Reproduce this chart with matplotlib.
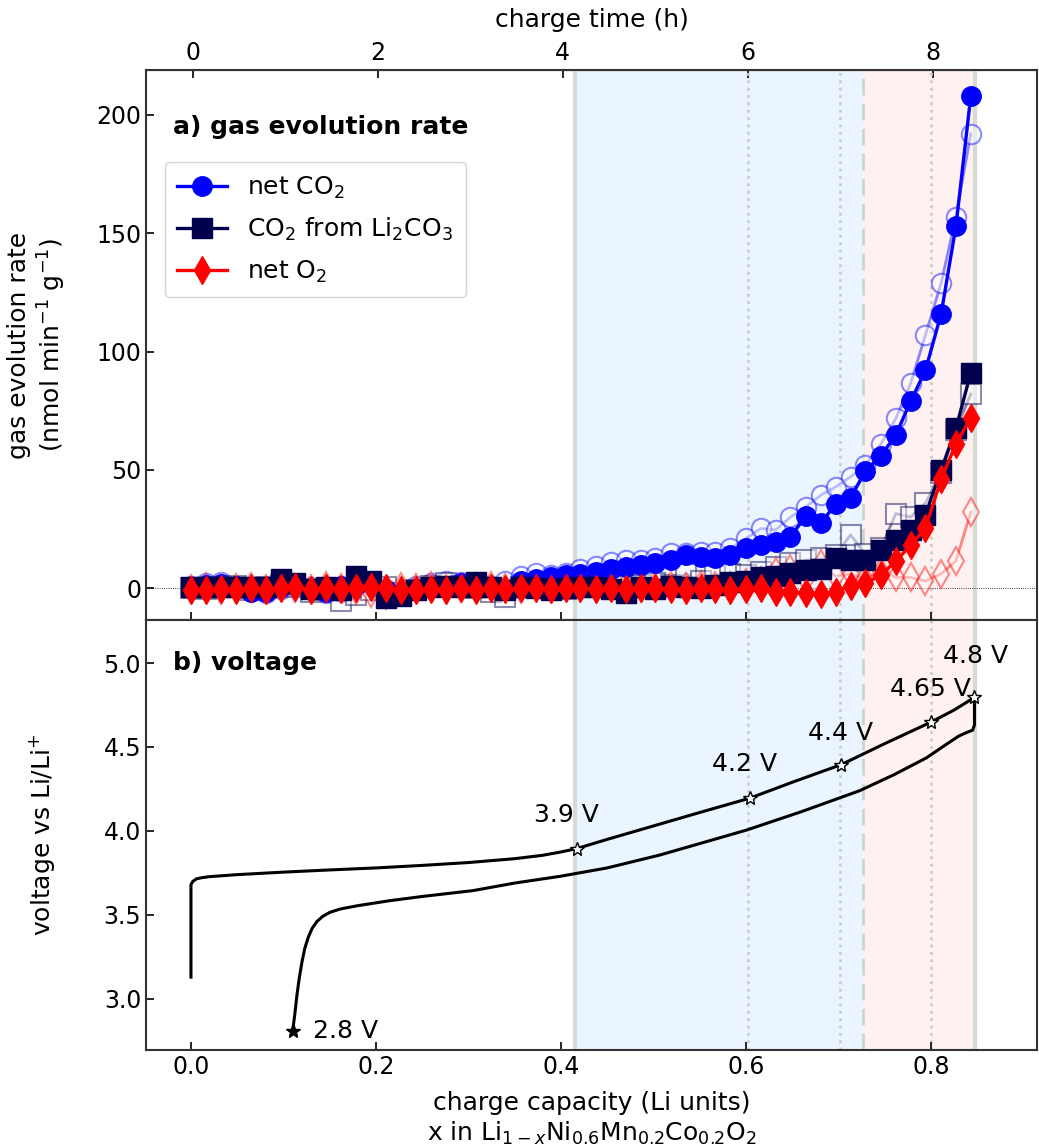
import matplotlib
matplotlib.use('Agg')
import matplotlib.pyplot as plt
from matplotlib.ticker import MultipleLocator

# ***** data *****
li_x = [0.000, 0.016, 0.032, 0.049, 0.065, 0.081, 0.097, 0.113, 0.130, 0.146,
        0.162, 0.178, 0.195, 0.211, 0.227, 0.243, 0.259, 0.276, 0.292, 0.308,
        0.324, 0.340, 0.357, 0.373, 0.389, 0.405, 0.421, 0.438, 0.454, 0.470,
        0.486, 0.502, 0.519, 0.535, 0.551, 0.567, 0.583, 0.600, 0.616, 0.632,
        0.648, 0.665, 0.681, 0.697, 0.713, 0.729, 0.746, 0.762, 0.778, 0.794,
        0.811, 0.827, 0.843]

net_co2 = [0.5, 1.5, 1.8, 1.0, -1.5, -1.8, 0.5, 1.2, -1.0, -1.5,
           0.8, 1.5, 2.0, -1.0, -2.0, -0.5, 0.5, 1.0, 2.0, 1.0,
           0.5, -1.0, 3.0, 4.0, 4.5, 5.5, 6.0, 7.0, 8.0, 9.0,
           9.7, 10.4, 11.8, 14.0, 13.2, 12.6, 14.0, 16.8, 18.2, 19.6,
           21.7, 30.5, 27.5, 35.5, 38.0, 49.5, 56.0, 64.7, 79.0, 92.0,
           116.0, 153.0, 208.0]
net_co2_b = [1.0, 2.0, 2.5, 1.0, -1.0, -2.0, -0.5, 1.5, 0.5, -2.0,
             -1.5, 0.0, 1.0, -0.5, -1.5, 1.0, 2.0, 3.0, 2.5, 1.5,
             1.0, 3.0, 5.0, 6.5, 5.5, 6.5, 8.0, 9.5, 11.0, 11.8,
             11.8, 12.6, 14.7, 15.0, 15.3, 15.3, 16.8, 21.0, 25.2, 24.5,
             30.0, 34.4, 39.3, 42.8, 47.0, 52.0, 61.0, 71.7, 86.5, 107.0,
             129.0, 157.0, 192.0]

li2co3 = [0.5, 0.5, 0.5, 0.5, 0.5, 0.5, 4.0, 2.0, -0.5, 0.5,
          -1.0, 5.0, 3.0, -4.0, -3.5, -1.0, 0.5, 1.0, 0.5, 2.5,
          0.5, -1.0, 0.5, 0.0, -1.0, 0.0, 0.5, 0.5, -0.5, -2.0,
          0.5, -0.5, 1.0, 0.5, 0.0, 1.5, 2.5, 3.0, 4.5, 5.0,
          6.2, 7.6, 8.0, 12.5, 12.0, 12.0, 16.0, 20.3, 24.5, 31.0,
          50.0, 67.5, 91.0]
li2co3_b = [0.0, -0.5, 0.5, 1.0, -1.0, 0.5, 1.5, 0.5, -1.5, -1.0,
            -5.5, -3.0, -1.0, 0.5, -2.0, -1.0, 1.0, 2.0, 1.0, 0.0,
            -1.5, -3.7, 0.5, 1.5, 0.5, -0.5, 0.5, 1.0, 0.5, 1.0,
            1.5, 2.0, 1.5, 6.0, 3.0, 5.0, 6.0, 5.5, 7.0, 9.0,
            10.5, 11.8, 12.5, 14.0, 22.5, 14.5, 17.0, 31.5, 30.0, 36.0,
            48.5, 67.0, 82.0]

net_o2 = [-1.0, -1.0, -0.5, -1.0, 0.0, -1.0, 0.0, 0.5, -1.0, 0.0,
          -0.5, 0.0, 0.5, 0.0, -1.0, -1.0, -0.5, -1.0, 0.0, -1.0,
          0.0, -0.5, 0.0, 0.0, -0.5, 0.0, 0.0, -0.5, 0.0, -0.5,
          0.0, 0.0, -0.5, -1.0, 0.0, -0.5, -1.0, -0.5, 0.0, -1.5,
          -1.5, -2.0, -2.5, -1.5, 1.0, 2.0, 5.5, 11.5, 18.0, 25.5,
          46.0, 61.0, 72.0]
net_o2_b = [-0.5, 0.5, -1.0, 0.0, 0.5, -0.5, 1.0, 0.0, -0.5, 1.0,
            0.0, -1.0, -2.0, -3.0, 0.5, 0.0, 1.0, -0.5, 0.0, 0.5,
            1.0, 0.0, -0.5, 0.5, 0.0, 1.0, 0.5, 0.0, 0.5, 1.0,
            0.0, 0.5, 1.0, 0.5, 1.5, 1.0, 1.0, 2.0, 3.0, 7.0,
            8.0, 4.0, 10.0, 5.0, 6.0, 4.0, 7.0, 4.5, 4.5, 3.0,
            6.0, 11.5, 32.0]

chg_x = [0.0, 0.0, 0.0, 0.002, 0.006, 0.012, 0.02, 0.05, 0.1, 0.15, 0.2,
         0.25, 0.3, 0.35, 0.38, 0.4, 0.417, 0.45, 0.5, 0.55, 0.604, 0.65,
         0.703, 0.75, 0.80, 0.825, 0.847]
chg_v = [3.13, 3.5, 3.68, 3.70, 3.715, 3.722, 3.728, 3.74, 3.755, 3.768, 3.78,
         3.795, 3.812, 3.835, 3.855, 3.875, 3.895, 3.95, 4.03, 4.11, 4.195, 4.29,
         4.395, 4.52, 4.648, 4.72, 4.795]
dis_x = [0.847, 0.847, 0.845, 0.838, 0.83, 0.815, 0.795, 0.76, 0.723, 0.66,
         0.601, 0.55, 0.507, 0.45, 0.399, 0.35, 0.305, 0.25, 0.215, 0.18,
         0.161, 0.150, 0.142, 0.136, 0.131, 0.127, 0.123, 0.120, 0.117,
         0.1145, 0.1125, 0.11]
dis_v = [4.795, 4.63, 4.60, 4.585, 4.565, 4.51, 4.435, 4.335, 4.24, 4.115,
         4.006, 3.925, 3.857, 3.78, 3.73, 3.69, 3.645, 3.61, 3.585, 3.555,
         3.535, 3.515, 3.49, 3.46, 3.42, 3.37, 3.30, 3.22, 3.12,
         3.02, 2.92, 2.81]

star_x = [0.417, 0.604, 0.703, 0.800, 0.847]
star_v = [3.895, 4.195, 4.395, 4.648, 4.795]
star_lab = ['3.9 V', '4.2 V', '4.4 V', '4.65 V', '4.8 V']
end_x, end_v = 0.11, 2.81

# ***** figure *****
FS = 18
TS = 17
W, H = 1039, 1148
fig = plt.figure(figsize=(W / 100, H / 100), dpi=100)
axa = fig.add_axes([146 / W, 1 - 620 / H, 891 / W, 550 / H])
axb = fig.add_axes([146 / W, 1 - 1050 / H, 891 / W, 430 / H], sharex=axa)

for ax in (axa, axb):
    ax.axvspan(0.415, 0.727, color='#ebf5ff', zorder=0, lw=0)
    ax.axvspan(0.727, 0.848, color='#fff1ef', zorder=0, lw=0)
    for xv in (0.415, 0.848):
        ax.axvline(xv, color='#d3dbd3', lw=3, zorder=1)
    for xv in (0.602, 0.702, 0.800):
        ax.axvline(xv, color='#cccccc', lw=2, ls=':', zorder=1)
    ax.axvline(0.727, color='#cdd5cd', lw=2, ls=(0, (6, 3)), zorder=1)
    ax.tick_params(direction='in', length=6, width=1.2, labelsize=TS)
    for s in ax.spines.values():
        s.set_linewidth(1.5)
        s.set_color('#333333')

# ***** a) gas evolution *****
axa.axhline(0, color='k', lw=0.6, ls=':', zorder=1)
navy = '#00004f'
axa.plot(li_x, net_co2_b, '-o', color='blue', mfc='white', mew=1.5, lw=2, ms=14, alpha=0.45, zorder=2)
axa.plot(li_x, li2co3_b, '-s', color=navy, mfc='white', mew=1.5, lw=2, ms=14, alpha=0.45, zorder=2)
axa.plot(li_x, net_o2_b, '-d', color='red', mfc='white', mew=1.5, lw=2, ms=14, alpha=0.45, zorder=2)
axa.plot(li_x, net_co2, '-o', color='blue', lw=2.4, ms=14, zorder=3, label='net CO$_2$')
axa.plot(li_x, li2co3, '-s', color=navy, lw=2.4, ms=14, zorder=4, label='CO$_2$ from Li$_2$CO$_3$')
axa.plot(li_x, net_o2, '-d', color='red', lw=2.4, ms=14, zorder=5, label='net O$_2$')

axa.set_xlim(-0.0486, 0.9146)
axa.set_ylim(-13.5, 219)
axa.yaxis.set_major_locator(MultipleLocator(50))
axa.xaxis.set_major_locator(MultipleLocator(0.2))
axa.xaxis.set_minor_locator(MultipleLocator(0.1))
axa.tick_params(which='minor', direction='in', length=3.5, width=1)
axa.tick_params(labelbottom=False)
axa.set_ylabel('gas evolution rate\n(nmol min$^{-1}$ g$^{-1}$)', fontsize=FS)
axa.yaxis.set_label_coords(-0.087, 0.5)
axa.text(0.03, 0.896, 'a) gas evolution rate', transform=axa.transAxes,
         fontsize=FS, fontweight='bold', va='center')
axa.legend(loc='upper left', bbox_to_anchor=(0.021, 0.833), borderaxespad=0,
           fontsize=FS, handlelength=2.0, borderpad=0.5, labelspacing=0.62)

top = axa.secondary_xaxis('top', functions=(lambda x: (x - 0.002) / 0.1,
                                            lambda t: t * 0.1 + 0.002))
top.set_xticks([0, 2, 4, 6, 8])
top.tick_params(direction='in', length=6, width=1.2, labelsize=TS)
top.set_xlabel('charge time (h)', fontsize=FS, labelpad=10)

# ***** b) voltage *****
axb.plot(chg_x, chg_v, color='k', lw=2.2, zorder=3)
axb.plot(dis_x, dis_v, color='k', lw=2.2, zorder=3)
axb.plot(star_x, star_v, ls='none', marker='*', ms=10, mfc='white', mec='k', mew=1, zorder=4)
axb.plot([end_x], [end_v], ls='none', marker='*', ms=11, color='k', zorder=4)
offs = [(-10, 34), (-5, 34), (-1, 32), (-1, 33), (1, 41)]
for xv, yv, lab, (dx, dy) in zip(star_x, star_v, star_lab, offs):
    axb.annotate(lab, (xv, yv), xytext=(dx, dy), textcoords='offset pixels',
                 ha='center', va='center', fontsize=FS, zorder=5)
axb.annotate('2.8 V', (end_x, end_v), xytext=(20, 0), textcoords='offset pixels',
             ha='left', va='center', fontsize=FS)

axb.set_ylim(2.696, 5.256)
axb.yaxis.set_major_locator(MultipleLocator(0.5))
axb.set_ylabel('voltage vs Li/Li$^{+}$', fontsize=FS)
axb.yaxis.set_label_coords(-0.1, 0.5)
axb.text(0.03, 0.9, 'b) voltage', transform=axb.transAxes,
         fontsize=FS, fontweight='bold', va='center')
axb.set_xlabel('charge capacity (Li units)\nx in Li$_{1-x}$Ni$_{0.6}$Mn$_{0.2}$Co$_{0.2}$O$_2$',
               fontsize=FS, labelpad=9)
axb.xaxis.set_minor_locator(plt.NullLocator())

fig.savefig('out.png', dpi=100)
